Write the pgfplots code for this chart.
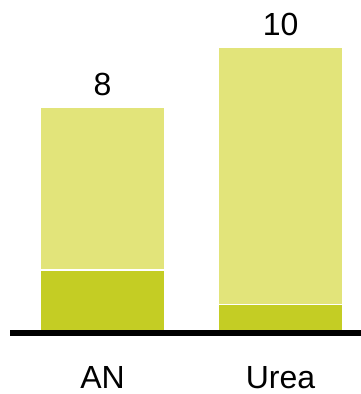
\documentclass[border=0pt]{standalone}
\usepackage{pgfplots}
\pgfplotsset{compat=1.18}
\usepackage{fontspec}
\setmainfont{Liberation Sans}
\definecolor{lightbar}{RGB}{226,228,122}
\definecolor{darkbar}{RGB}{196,205,36}
\begin{document}
\begin{tikzpicture}
\useasboundingbox (0,0) rectangle (361pt,394pt);
\begin{axis}[
  at={(10pt,61pt)}, anchor=south west,
  scale only axis, width=351pt, height=333pt,
  ybar stacked, bar width=0.702,
  xmin=-0.52, xmax=1.452, ymin=0, ymax=11.64,
  axis x line=bottom, axis y line=none,
  x axis line style={line width=5.5pt, -},
  axis on top,
  xtick=data, xticklabels={AN,Urea},
  major tick length=0pt,
  xticklabel style={font=\fontsize{32}{36}\selectfont, anchor=base, yshift=-55pt},
  /pgf/number format/assume math mode=true,
  clip=false,
]
\addplot[fill=darkbar, draw=white, line width=1.3pt] coordinates {(0,2.2) (1,1.0)};
\addplot[fill=lightbar, draw=white, line width=1.3pt] coordinates {(0,5.7) (1,9.0)};
\end{axis}
\begin{axis}[
  at={(10pt,61pt)}, anchor=south west,
  scale only axis, width=351pt, height=333pt,
  ybar, bar width=0.702,
  xmin=-0.52, xmax=1.452, ymin=0, ymax=11.64,
  hide axis, clip=false,
]
\addplot[draw=none, fill=none, nodes near coords, point meta=explicit symbolic,
  every node near coord/.append style={font=\fontsize{32}{36}\selectfont, text=black, anchor=base, yshift=11pt, inner sep=0pt}]
  coordinates {(0,7.9) [8] (1,10.0) [10]};
\end{axis}
\end{tikzpicture}
\end{document}
